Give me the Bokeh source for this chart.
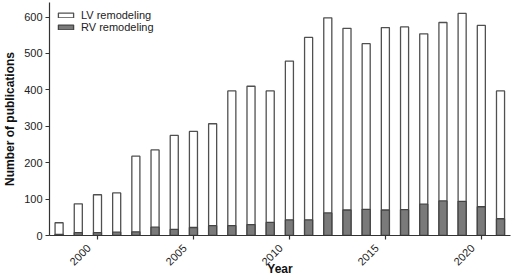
from bokeh.plotting import figure
from bokeh.models import Legend, LegendItem, FixedTicker, Range1d
from bokeh.embed import file_html
from bokeh.resources import INLINE

years = list(range(1998, 2022))
lv_total = [35, 87, 112, 117, 218, 235, 275, 286, 307, 397, 410, 397,
            479, 544, 598, 569, 527, 571, 573, 554, 585, 610, 577, 397]
rv_values = [3, 8, 8, 9, 10, 23, 17, 22, 27, 27, 30, 36,
             43, 43, 62, 70, 72, 70, 71, 86, 95, 94, 79, 46]
x_ticks = [2000, 2005, 2010, 2015, 2020]
x_tick_labels = ["2000", "2005", "2010", "2015", "2020"]
y_ticks = [0, 100, 200, 300, 400, 500, 600]

FONT = "Liberation Sans"
DARK = "#333333"
PAD = "\u00a0" * 4  # trailing non-breaking spaces shift rotated labels down-left

p = figure(width=512, height=278, output_backend="svg", toolbar_location=None,
           x_range=Range1d(1997.5, 2021.52), y_range=Range1d(0, 640),
           min_border_left=41, min_border_right=2, min_border_top=2,
           min_border_bottom=42)
p.outline_line_color = None
p.xgrid.visible = False
p.ygrid.visible = False
p.background_fill_color = "white"

lv = p.vbar(x=years, top=lv_total, width=0.42, bottom=0,
            fill_color="white", line_color="#505050", line_width=1.3)
rv = p.vbar(x=years, top=rv_values, width=0.42, bottom=0,
            fill_color="#7a7a7a", line_color="#444444", line_width=1.3)

for ax in (p.xaxis[0], p.yaxis[0]):
    ax.axis_line_color = DARK
    ax.axis_line_width = 1.2
    ax.major_tick_line_color = DARK
    ax.major_tick_line_width = 1.2
    ax.major_tick_in = 0
    ax.major_tick_out = 4
    ax.minor_tick_line_color = None
    ax.major_label_text_font = FONT
    ax.major_label_text_font_size = "11px"
    ax.major_label_text_color = "#222222"
    ax.axis_label_text_font = FONT
    ax.axis_label_text_font_size = "12px"
    ax.axis_label_text_font_style = "bold"
    ax.axis_label_text_color = "#111111"

p.xaxis.ticker = FixedTicker(ticks=x_ticks)
p.yaxis.ticker = FixedTicker(ticks=y_ticks)
p.xaxis.major_label_overrides = {t: lab + PAD for t, lab in zip(x_ticks, x_tick_labels)}
p.xaxis.major_label_orientation = 0.785
p.xaxis.major_label_standoff = -2
p.yaxis.major_label_standoff = 3
p.xaxis.axis_label = "Year"
p.yaxis.axis_label = "Number of publications"
p.xaxis.axis_label_standoff = -13
p.yaxis.axis_label_standoff = 4

legend = Legend(items=[LegendItem(label="LV remodeling", renderers=[lv]),
                       LegendItem(label="RV remodeling", renderers=[rv])],
                location="top_left", padding=0, margin=7, spacing=0,
                glyph_width=19, glyph_height=6, label_height=12,
                label_standoff=6, border_line_color=None,
                background_fill_alpha=0,
                label_text_font=FONT, label_text_font_size="11px",
                label_text_color="#222222")
p.add_layout(legend, "center")

open("out.html", "w").write(file_html(p, INLINE))
